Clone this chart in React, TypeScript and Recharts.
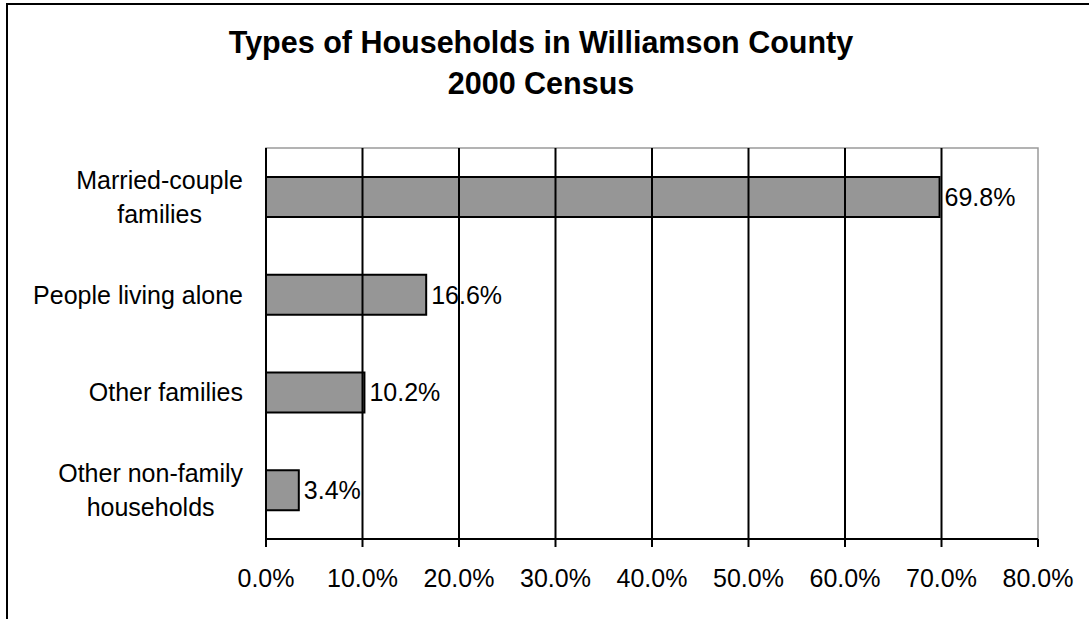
import React from 'react';
import { BarChart, Bar, XAxis, YAxis, ReferenceLine, ReferenceArea, LabelList } from 'recharts';

// Household types, share of all households
const categories = [
  'Married-couple\nfamilies',
  'People living alone',
  'Other families',
  'Other non-family\nhouseholds',
];
const shares = [69.8, 16.6, 10.2, 3.4];
const percentTicks = [0, 10, 20, 30, 40, 50, 60, 70, 80];
const bandEdges = [0, 1, 2, 3, 4];
const titleLines = ['Types of Households in Williamson County', '2000 Census'];

const data = categories.map((name, i) => ({ name, share: shares[i] }));

const FONT = '"Liberation Sans", Arial, Helvetica, sans-serif';
const LABEL_SIZE = 25;
const fmt = (v: number) => `${Number(v).toFixed(1)}%`;

let measureCtx: CanvasRenderingContext2D | null = null;
function textWidth(s: string, size: number) {
  if (!measureCtx && typeof document !== 'undefined') {
    measureCtx = document.createElement('canvas').getContext('2d');
  }
  if (!measureCtx) return s.length * size * 0.5;
  measureCtx.font = `${size}px ${FONT}`;
  return measureCtx.measureText(s).width;
}

// Category labels: single lines right-aligned, wrapped lines centred on each other
function CategoryTick({ x, y, payload }: any) {
  const lines = String(payload.value).split('\n');
  const lineHeight = 34;
  if (lines.length === 1) {
    return (
      <text x={x} y={y} dy="0.355em" textAnchor="end" fontSize={LABEL_SIZE} fontFamily={FONT} fill="#000">
        {lines[0]}
      </text>
    );
  }
  const w = Math.max(...lines.map((l) => textWidth(l, LABEL_SIZE)));
  const cx = x - w / 2;
  return (
    <text textAnchor="middle" fontSize={LABEL_SIZE} fontFamily={FONT} fill="#000">
      {lines.map((l, i) => (
        <tspan key={i} x={cx} y={y + (i - (lines.length - 1) / 2) * lineHeight} dy="0.355em">
          {l}
        </tspan>
      ))}
    </text>
  );
}

export default function App() {
  return (
    <div
      style={{
        position: 'absolute',
        left: 0,
        top: 0,
        width: 1089,
        height: 619,
        background: '#fff',
        overflow: 'hidden',
        fontFamily: FONT,
      }}
    >
      <div
        style={{
          position: 'absolute',
          left: 6,
          top: 3,
          width: 1200,
          height: 700,
          borderTop: '2px solid #000',
          borderLeft: '2px solid #000',
          boxSizing: 'border-box',
        }}
      />
      <div
        style={{
          position: 'absolute',
          left: 0,
          top: 22,
          width: 1082,
          textAlign: 'center',
          fontWeight: 'bold',
          fontSize: 30.5,
          lineHeight: '41px',
          color: '#000',
        }}
      >
        {titleLines.map((t) => (
          <div key={t}>{t}</div>
        ))}
      </div>
      <div style={{ position: 'absolute', left: 0, top: 0 }}>
        <BarChart
          width={1089}
          height={619}
          data={data}
          layout="vertical"
          margin={{ top: 148, right: 51, bottom: 0, left: 0 }}
        >
          <ReferenceArea
            yAxisId="cat"
            x1={0}
            x2={80}
            fill="none"
            stroke="#9a9a9a"
            strokeWidth={1.5}
          />
          {percentTicks.slice(1, -1).map((v) => (
            <ReferenceLine key={v} yAxisId="cat" x={v} stroke="#000" strokeWidth={2} />
          ))}
          <XAxis
            type="number"
            domain={[0, 80]}
            ticks={percentTicks}
            tickFormatter={fmt}
            height={80}
            tickSize={8}
            tickMargin={22}
            axisLine={{ stroke: '#000', strokeWidth: 2 }}
            tickLine={{ stroke: '#000', strokeWidth: 2 }}
            tick={{ fill: '#000', fontSize: LABEL_SIZE, fontFamily: FONT }}
            interval={0}
          />
          <YAxis
            yAxisId="cat"
            type="category"
            dataKey="name"
            width={258}
            tickSize={0}
            tickMargin={15}
            tickLine={false}
            axisLine={false}
            tick={<CategoryTick />}
            interval={0}
          />
          <YAxis
            yAxisId="band"
            type="number"
            domain={[0, 4]}
            ticks={bandEdges}
            allowDataOverflow
            width={8}
            tickSize={8}
            tick={false}
            axisLine={{ stroke: '#000', strokeWidth: 2 }}
            tickLine={{ stroke: '#000', strokeWidth: 2 }}
          />
          <Bar
            yAxisId="cat"
            dataKey="share"
            fill="#969696"
            stroke="#000"
            strokeWidth={2}
            barSize={40}
            isAnimationActive={false}
          >
            <LabelList
              dataKey="share"
              position="right"
              offset={5}
              formatter={fmt as any}
              fill="#000"
              fontSize={LABEL_SIZE}
              fontFamily={FONT}
            />
          </Bar>
        </BarChart>
      </div>
    </div>
  );
}
